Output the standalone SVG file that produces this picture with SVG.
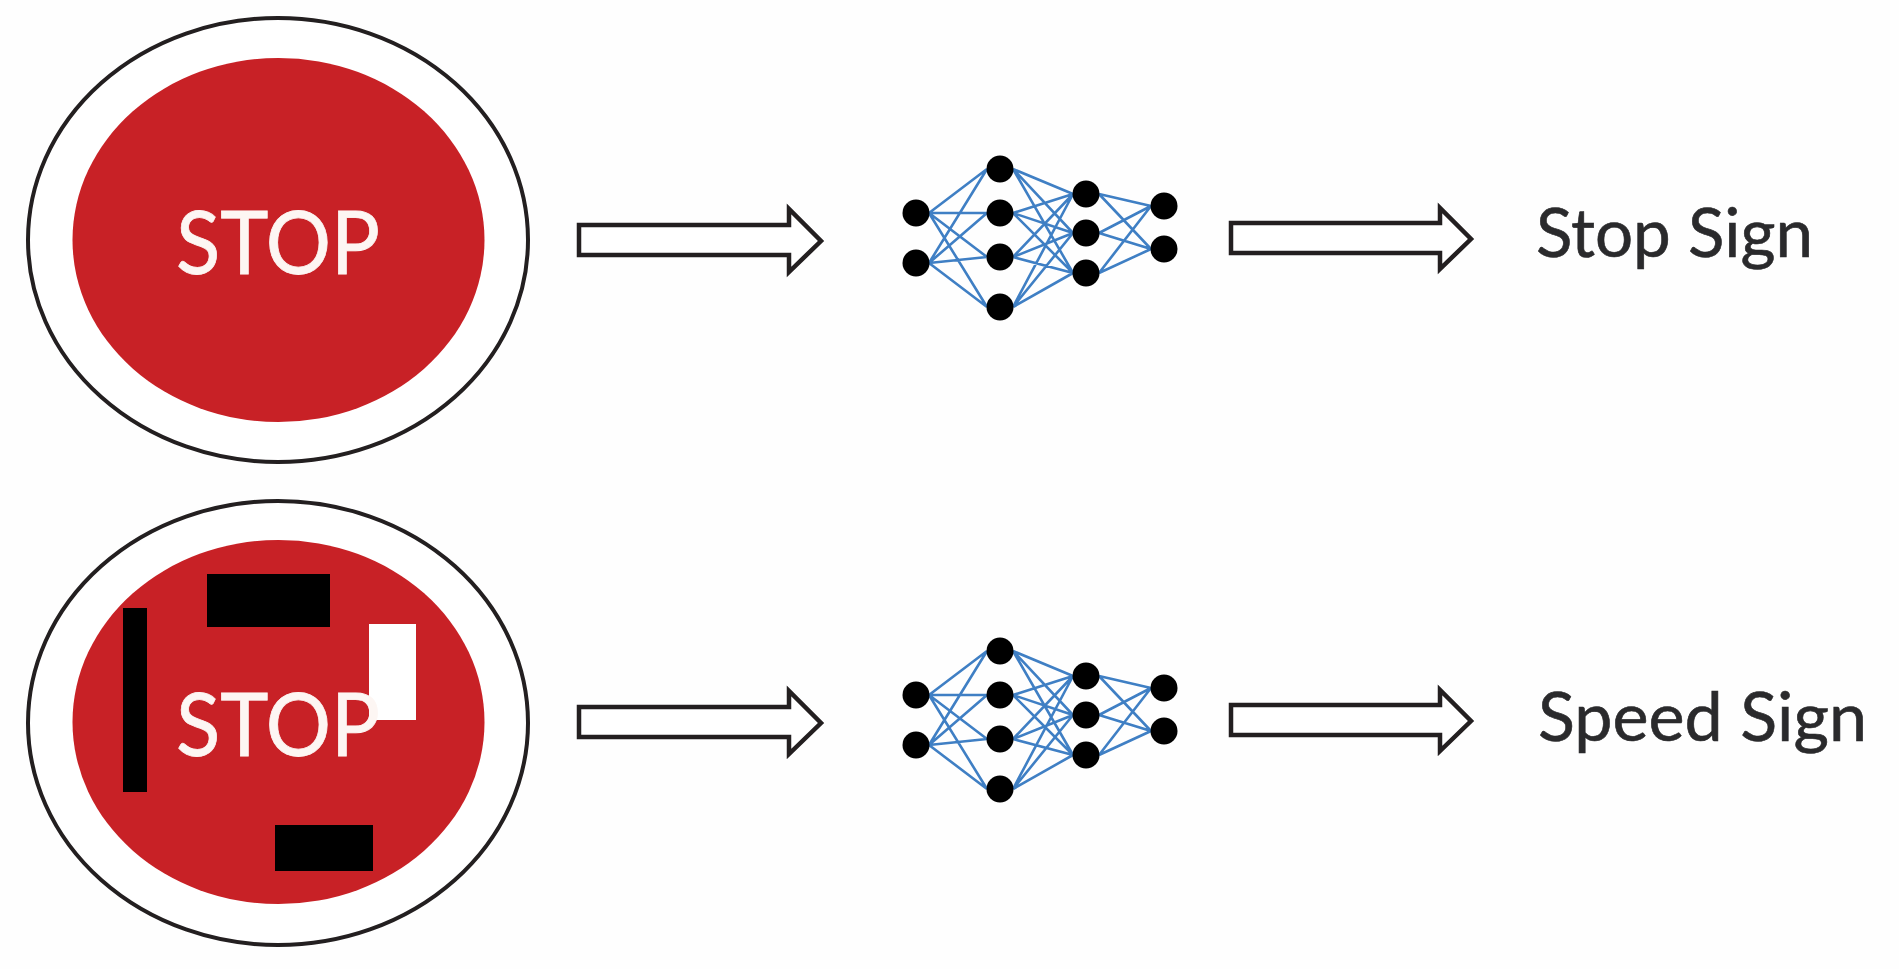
<svg xmlns="http://www.w3.org/2000/svg" width="1899" height="969" viewBox="0 0 1899 969">
<style>
.outer{fill:#fff;stroke:#231f20;stroke-width:4}
.red{fill:#c82126}
.blk{fill:#000}
.wht{fill:#fff}
.stop{font-family:Lato,"Open Sans","Liberation Sans",sans-serif;font-size:88px;fill:#fdf6f3;stroke:#fdf6f3;stroke-width:.8}
.lbl{font-family:Lato,"Open Sans","Liberation Sans",sans-serif;font-size:67px;fill:#2a2a2c;stroke:#2a2a2c;stroke-width:.6}
.arrow{fill:#fff;stroke:#231f20;stroke-width:4.500;stroke-linejoin:miter}
.edge{fill:none;stroke:#3f7fc4;stroke-width:2.600}
.n{fill:#000}
</style>
<defs>
<g id="net">
<path class="edge" d="M929 213L987 169M929 213L987 213M929 213L987 257M929 213L987 307M929 263L987 169M929 263L987 213M929 263L987 257M929 263L987 307M1013 169L1073 194M1013 169L1073 233M1013 169L1073 273M1013 213L1073 194M1013 213L1073 233M1013 213L1073 273M1013 257L1073 194M1013 257L1073 233M1013 257L1073 273M1013 307L1073 194M1013 307L1073 233M1013 307L1073 273M1099 194L1151 206M1099 194L1151 249M1099 233L1151 206M1099 233L1151 249M1099 273L1151 206M1099 273L1151 249"/>
<circle class="n" cx="916" cy="213" r="13.500"/><circle class="n" cx="916" cy="263" r="13.500"/>
<circle class="n" cx="1000" cy="169" r="13.500"/><circle class="n" cx="1000" cy="213" r="13.500"/><circle class="n" cx="1000" cy="257" r="13.500"/><circle class="n" cx="1000" cy="307" r="13.500"/>
<circle class="n" cx="1086" cy="194" r="13.500"/><circle class="n" cx="1086" cy="233" r="13.500"/><circle class="n" cx="1086" cy="273" r="13.500"/>
<circle class="n" cx="1164" cy="206" r="13.500"/><circle class="n" cx="1164" cy="249" r="13.500"/>
</g>
</defs>
<rect width="1899" height="969" fill="#fefefe"/>
<g id="sign-top">
<ellipse class="outer" cx="278" cy="240" rx="250" ry="222"/>
<ellipse class="red" cx="278.500" cy="240" rx="206" ry="182"/>
<text class="stop" x="176" y="274" textLength="204" lengthAdjust="spacingAndGlyphs">STOP</text>
</g>
<g id="sign-bottom">
<ellipse class="outer" cx="278" cy="723" rx="250" ry="222"/>
<ellipse class="red" cx="278.500" cy="722" rx="206" ry="182"/>
<rect class="wht" x="369" y="624" width="47" height="96"/>
<text class="stop" x="176" y="756" textLength="204" lengthAdjust="spacingAndGlyphs">STOP</text>
<rect class="blk" x="207" y="574" width="123" height="53"/>
<rect class="blk" x="123" y="608" width="24" height="184"/>
<rect class="blk" x="275" y="825" width="98" height="46"/>
</g>
<g id="connectors">
<path class="arrow" d="M579 225H789V209L821 241L789 272V255H579Z"/>
<path class="arrow" d="M1231 223H1440V208L1471 239L1440 269V253H1231Z"/>
<path class="arrow" d="M579 707H789V691L821 723L789 754V737H579Z"/>
<path class="arrow" d="M1231 705H1440V690L1471 721L1440 751V735H1231Z"/>
</g>
<g id="network-top"><use href="#net"/></g>
<g id="network-bottom"><use href="#net" y="482"/></g>
<g id="label-top"><text class="lbl" x="1536" y="257" textLength="277" lengthAdjust="spacingAndGlyphs">Stop Sign</text></g>
<g id="label-bottom"><text class="lbl" x="1538" y="741" textLength="329" lengthAdjust="spacingAndGlyphs">Speed Sign</text></g>
</svg>
